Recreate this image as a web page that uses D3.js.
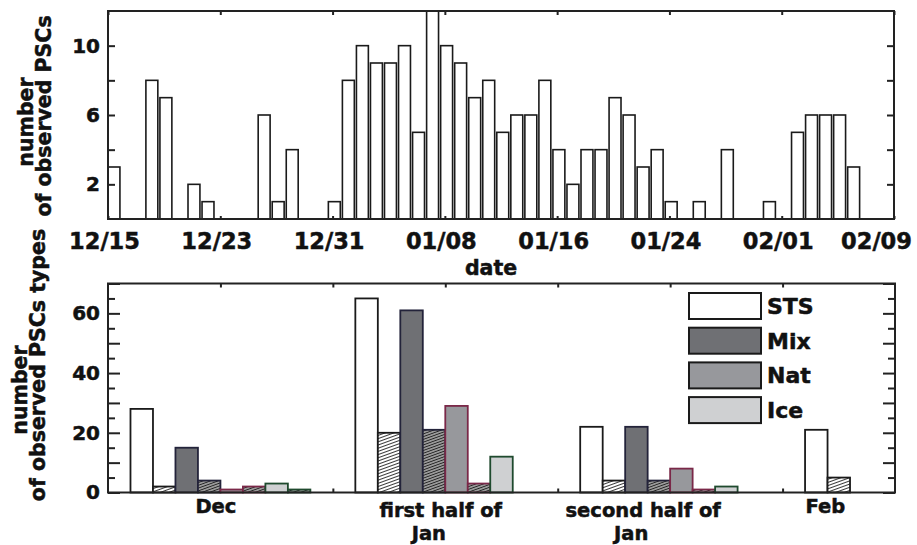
<!DOCTYPE html>
<html>
<head>
<meta charset="utf-8">
<script src="https://cdn.jsdelivr.net/npm/d3@7"></script>
<style>
    body { margin: 0; background: #fff; }
    text { font-family: "DejaVu Sans", sans-serif; font-weight: bold; fill: #111; stroke: #111; stroke-width: 0.5; }
    .frame { fill: none; stroke: #222; stroke-width: 2; }
    .axis path { display: none; }
    .axis line { stroke: #222; stroke-width: 2; }
    .axis text { font-size: 20px; font-family: "DejaVu Sans", sans-serif; font-weight: bold; }
</style>
</head>
<body>
<svg id="chart" width="917" height="545"></svg>
<script>
// top panel: number of PSCs seen per day
const dates = ["12/15","12/18","12/19","12/21","12/22","12/26","12/27","12/28","12/31",
    "01/01","01/02","01/03","01/04","01/05","01/06","01/07","01/08","01/09","01/10","01/11","01/12",
    "01/13","01/14","01/15","01/16","01/17","01/18","01/19","01/20","01/21","01/22","01/23","01/24",
    "01/26","01/28","01/31","02/02","02/03","02/04","02/05","02/06"];
const counts = [3,8,7,2,1,6,1,4,1,
    8,10,9,9,10,5,12,10,9,7,8,5,
    6,6,8,4,2,4,4,7,6,3,4,1,
    1,4,1,5,6,6,6,3];
const dateTicks = ["12/15","12/23","12/31","01/08","01/16","01/24","02/01","02/09"];
const countTicks = [2,4,6,8,10];
const countLabels = [2,6,10];

// bottom panel: PSC types per period
const periods = [["Dec"], ["first half of", "Jan"], ["second half of", "Jan"], ["Feb"]];
const types = ["STS", "Mix", "Nat", "Ice"];
const stsCounts    = [28, 65, 22, 21];
const stsHatched   = [2, 20, 4, 5];
const mixCounts    = [15, 61, 22, 0];
const mixHatched   = [4, 21, 4, 0];
const natCounts    = [1, 29, 8, 0];
const natHatched   = [2, 3, 1, 0];
const iceCounts    = [3, 12, 2, 0];
const iceHatched   = [1, 0, 0, 0];
const typeTicks = [0, 10, 20, 30, 40, 50, 60, 70];
const typeLabels = [0, 20, 40, 60];

const svg = d3.select("#chart");

// dates around new year: december belongs to the first year
function parseDay(s) {
    const parts = s.split("/");
    const month = +parts[0];
    const year = month === 12 ? 2000 : 2001;
    return new Date(Date.UTC(year, month - 1, +parts[1]));
}

// ---------- top panel ----------
const top1 = {left: 108, right: 894, top: 11, bottom: 219};

const x = d3.scaleUtc()
    .domain([parseDay(dateTicks[0]), parseDay(dateTicks[dateTicks.length - 1])])
    .range([top1.left, top1.right]);
const y = d3.scaleLinear().domain([0, 12]).range([top1.bottom, top1.top]);
const dayW = x(parseDay("12/16")) - x(parseDay("12/15"));

const g1 = svg.append("g");

g1.selectAll(".bar")
    .data(dates.map((d, i) => ({date: parseDay(d), value: counts[i]})))
    .enter()
    .append("rect")
        .attr("class", "bar")
        .attr("x", d => Math.max(x(d.date) - 0.3 * dayW, top1.left))
        .attr("y", d => y(d.value))
        .attr("width", 0.85 * dayW)
        .attr("height", d => y(0) - y(d.value))
        .attr("fill", "#fff")
        .attr("stroke", "#1a1a1a")
        .attr("stroke-width", 1.6);

g1.append("g").attr("class", "axis")
    .attr("transform", "translate(" + top1.left + ",0)")
    .call(d3.axisLeft(y).tickValues(countTicks).tickSize(-7).tickPadding(8)
        .tickFormat(d => countLabels.includes(d) ? d : ""));

g1.append("g").attr("class", "axis")
    .attr("transform", "translate(" + top1.right + ",0)")
    .call(d3.axisRight(y).tickValues(countTicks).tickSize(-7).tickFormat(""));

const dateAxis = g1.append("g").attr("class", "axis")
    .attr("transform", "translate(0," + top1.bottom + ")")
    .call(d3.axisBottom(x).tickValues(dateTicks.map(parseDay)).tickSize(-3).tickPadding(14)
        .tickFormat((d, i) => dateTicks[i]));
dateAxis.selectAll("text")
    .style("font-size", "22.5px")
    .attr("dx", (d, i) => i === dateTicks.length - 1 ? -18 : -4);

g1.append("g").attr("class", "axis")
    .attr("transform", "translate(0," + top1.top + ")")
    .call(d3.axisTop(x).tickValues(dateTicks.map(parseDay)).tickSize(-4).tickFormat(""));

g1.append("rect").attr("class", "frame")
    .attr("x", top1.left).attr("y", top1.top)
    .attr("width", top1.right - top1.left).attr("height", top1.bottom - top1.top);

g1.append("text")
    .attr("x", (top1.left + top1.right) / 2 - 10).attr("y", 275)
    .attr("text-anchor", "middle").style("font-size", "20.5px")
    .text("date");

g1.append("text")
    .attr("transform", "translate(33,122)rotate(-90)")
    .attr("text-anchor", "middle").style("font-size", "20.5px")
    .text("number");
g1.append("text")
    .attr("transform", "translate(51,116)rotate(-90)")
    .attr("text-anchor", "middle").style("font-size", "20.5px")
    .text("of observed PSCs");

// ---------- bottom panel ----------
const bot = {left: 108, right: 895, top: 283.5, bottom: 492.5};

const xb = d3.scaleLinear().domain([0, 3.5]).range([bot.left, bot.right]);
const yb = d3.scaleLinear().domain([0, 70]).range([bot.bottom, bot.top]);

const defs = svg.append("defs");
function hatch(id, bg, line, gap) {
    const p = defs.append("pattern")
        .attr("id", id)
        .attr("patternUnits", "userSpaceOnUse")
        .attr("width", 8).attr("height", gap)
        .attr("patternTransform", "rotate(-20)");
    p.append("rect").attr("width", 8).attr("height", gap).attr("fill", bg);
    p.append("line").attr("x1", 0).attr("x2", 8).attr("y1", gap / 2).attr("y2", gap / 2)
        .attr("stroke", line).attr("stroke-width", 0.9);
}
hatch("hatchLight", "#fff", "#222", 3);
hatch("hatchDark", "#9a9a9a", "#222", 2.6);

// one entry per bar in a group, in drawing order
const series = [
    {values: stsCounts,  fill: "#fff",               stroke: "#1a1a1a"},
    {values: stsHatched, fill: "url(#hatchLight)",   stroke: "#1a1a1a"},
    {values: mixCounts,  fill: "#6f7074",            stroke: "#23233a"},
    {values: mixHatched, fill: "url(#hatchDark)",    stroke: "#23233a"},
    {values: natCounts,  fill: "#97989c",            stroke: "#7a2848"},
    {values: natHatched, fill: "url(#hatchDark)",    stroke: "#7a2848"},
    {values: iceCounts,  fill: "#cfd0d2",            stroke: "#1f4a2e"},
    {values: iceHatched, fill: "url(#hatchDark)",    stroke: "#1f4a2e"}
];

const barData = [];
periods.forEach((p, i) => {
    series.forEach((s, j) => {
        if (s.values[i] > 0) {
            barData.push({period: i, slot: j, value: s.values[i], fill: s.fill, stroke: s.stroke});
        }
    });
});

const g2 = svg.append("g");

g2.selectAll(".tbar")
    .data(barData)
    .enter()
    .append("rect")
        .attr("class", "tbar")
        .attr("x", d => xb(d.period + 0.1 + 0.1 * d.slot))
        .attr("y", d => yb(d.value))
        .attr("width", xb(0.1) - xb(0))
        .attr("height", d => yb(0) - yb(d.value))
        .attr("fill", d => d.fill)
        .attr("stroke", d => d.stroke)
        .attr("stroke-width", 1.8);

const minorTicks = d3.range(5, 70, 10);

g2.append("g").attr("class", "axis")
    .attr("transform", "translate(" + bot.left + ",0)")
    .call(d3.axisLeft(yb).tickValues(typeTicks).tickSize(-12).tickPadding(8)
        .tickFormat(d => typeLabels.includes(d) ? d : ""));
g2.append("g").attr("class", "axis")
    .attr("transform", "translate(" + bot.left + ",0)")
    .call(d3.axisLeft(yb).tickValues(minorTicks).tickSize(-7).tickFormat(""));
g2.append("g").attr("class", "axis")
    .attr("transform", "translate(" + bot.right + ",0)")
    .call(d3.axisRight(yb).tickValues(typeTicks).tickSize(-12).tickFormat(""));
g2.append("g").attr("class", "axis")
    .attr("transform", "translate(" + bot.right + ",0)")
    .call(d3.axisRight(yb).tickValues(minorTicks).tickSize(-7).tickFormat(""));

g2.append("g").attr("class", "axis")
    .attr("transform", "translate(0," + bot.top + ")")
    .call(d3.axisTop(xb).tickValues(d3.range(0.5, 3.5, 0.5)).tickSize(-4).tickFormat(""));
g2.append("g").attr("class", "axis")
    .attr("transform", "translate(0," + bot.bottom + ")")
    .call(d3.axisBottom(xb).tickValues([1, 2, 3]).tickSize(-4).tickFormat(""));

g2.append("rect").attr("class", "frame")
    .attr("x", bot.left).attr("y", bot.top)
    .attr("width", bot.right - bot.left).attr("height", bot.bottom - bot.top);

// period names under the bars
const labelAt = [0.48, 1.48, 2.38, 3.19];
periods.forEach((lines, i) => {
    lines.forEach((line, k) => {
        g2.append("text")
            .attr("x", xb(labelAt[i]) - (k === 1 ? 12 : 0))
            .attr("y", lines.length === 1 ? 513 : 516.5 + 23.5 * k)
            .attr("text-anchor", "middle").style("font-size", "19.5px")
            .text(line);
    });
});

g2.append("text")
    .attr("transform", "translate(27,390)rotate(-90)")
    .attr("text-anchor", "middle").style("font-size", "20.5px")
    .text("number");
g2.append("text")
    .attr("transform", "translate(45,365)rotate(-90)")
    .attr("text-anchor", "middle").style("font-size", "20.5px")
    .text("of observed PSCs types");

// legend
const legendFill = ["#fff", "#6f7074", "#97989c", "#cfd0d2"];
const legend = g2.selectAll(".legend")
    .data(types)
    .enter()
    .append("g")
        .attr("class", "legend")
        .attr("transform", (d, i) => "translate(689," + (293 + i * 34.7) + ")");
legend.append("rect")
    .attr("width", 72).attr("height", 26)
    .attr("fill", (d, i) => legendFill[i])
    .attr("stroke", "#1a1a1a").attr("stroke-width", 2);
legend.append("text")
    .attr("x", 78).attr("y", 21)
    .style("font-size", "22px")
    .text(d => d);
</script>
</body>
</html>
